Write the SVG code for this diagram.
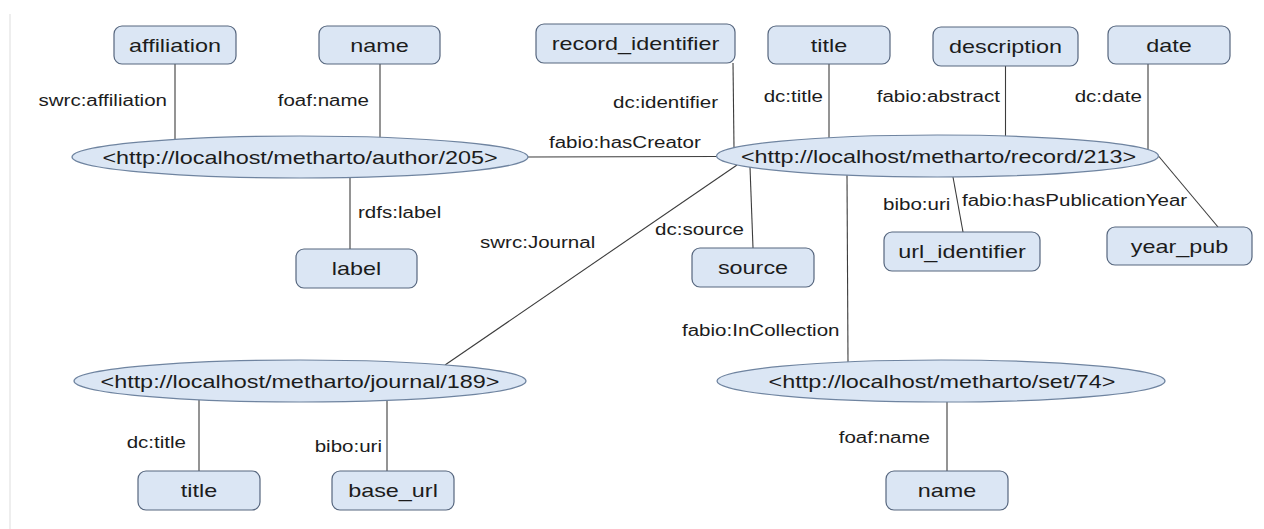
<svg xmlns="http://www.w3.org/2000/svg" width="1264" height="529" viewBox="0 0 1264 529">
<style>
.bg{fill:#ffffff}
.frame{stroke:#e9e9e9;stroke-width:1.5}
.box{fill:#dbe6f4;stroke:#56667e;stroke-width:1.2}
.ell{fill:#dbe6f4;stroke:#6f84a0;stroke-width:1.2}
.t{font-family:"Liberation Sans",Arial,sans-serif;font-size:18px;fill:#1c1c1c;text-anchor:middle}
.l{font-family:"Liberation Sans",Arial,sans-serif;font-size:15.8px;fill:#1c1c1c}
.e{text-anchor:end}
.s{text-anchor:start}
.c line{stroke:#3c3c3c;stroke-width:1.1}
</style>
<rect class="bg" x="0" y="0" width="1264" height="529"/>
<line class="frame" x1="10" y1="14" x2="10" y2="529"/>

<g id="connectors" class="c">
  <g><line x1="175" y1="64" x2="175" y2="139.5"/><text class="l e" transform="matrix(1.3 0 0 1 167 106)">swrc:affiliation</text></g>
  <g><line x1="380" y1="64" x2="380" y2="137.5"/><text class="l e" transform="matrix(1.3 0 0 1 369 106)">foaf:name</text></g>
  <g><line x1="350" y1="177.5" x2="350" y2="249"/><text class="l s" transform="matrix(1.3 0 0 1 358 218)">rdfs:label</text></g>
  <g><line x1="528" y1="157" x2="716.5" y2="156.5"/><text class="l s" transform="matrix(1.3 0 0 1 549 148)">fabio:hasCreator</text></g>
  <g><line x1="733" y1="63" x2="734" y2="148"/><text class="l e" transform="matrix(1.3 0 0 1 718 108)">dc:identifier</text></g>
  <g><line x1="829" y1="64" x2="829" y2="138"/><text class="l e" transform="matrix(1.3 0 0 1 823 102)">dc:title</text></g>
  <g><line x1="1005.5" y1="66" x2="1005.5" y2="136"/><text class="l e" transform="matrix(1.3 0 0 1 1000 102)">fabio:abstract</text></g>
  <g><line x1="1148" y1="64" x2="1148" y2="149.5"/><text class="l e" transform="matrix(1.3 0 0 1 1142 102)">dc:date</text></g>
  <g><line x1="737" y1="165" x2="445" y2="365"/><text class="l s" transform="matrix(1.3 0 0 1 480 248)">swrc:Journal</text></g>
  <g><line x1="750" y1="167" x2="753" y2="248"/><text class="l s" transform="matrix(1.3 0 0 1 655 235)">dc:source</text></g>
  <g><line x1="847" y1="175" x2="848" y2="362"/><text class="l s" transform="matrix(1.3 0 0 1 682 336)">fabio:InCollection</text></g>
  <g><line x1="953" y1="177" x2="963" y2="232"/><text class="l s" transform="matrix(1.3 0 0 1 883 210)">bibo:uri</text></g>
  <g><line x1="1158.5" y1="156" x2="1218" y2="227"/><text class="l s" transform="matrix(1.3 0 0 1 962 206)">fabio:hasPublicationYear</text></g>
  <g><line x1="199" y1="400" x2="199" y2="471"/><text class="l e" transform="matrix(1.3 0 0 1 186 448)">dc:title</text></g>
  <g><line x1="387" y1="400" x2="387" y2="471"/><text class="l e" transform="matrix(1.3 0 0 1 382 452)">bibo:uri</text></g>
  <g><line x1="947" y1="402" x2="947" y2="471"/><text class="l e" transform="matrix(1.3 0 0 1 930 443)">foaf:name</text></g>
</g>

<g id="author"><ellipse class="ell" cx="300" cy="157" rx="228" ry="21"/><text class="t" transform="matrix(1.3 0 0 1 300 163.5)">&lt;http://localhost/metharto/author/205&gt;</text></g>
<g id="record"><ellipse class="ell" cx="937.5" cy="156" rx="221" ry="21"/><text class="t" transform="matrix(1.3 0 0 1 938.5 162.5)">&lt;http://localhost/metharto/record/213&gt;</text></g>
<g id="journal"><ellipse class="ell" cx="300" cy="381" rx="226" ry="21"/><text class="t" transform="matrix(1.3 0 0 1 300 387.5)">&lt;http://localhost/metharto/journal/189&gt;</text></g>
<g id="set"><ellipse class="ell" cx="941" cy="381" rx="224" ry="21"/><text class="t" transform="matrix(1.3 0 0 1 942 387.5)">&lt;http://localhost/metharto/set/74&gt;</text></g>

<g id="affiliation"><rect class="box" x="114" y="26" width="122" height="38" rx="8"/><text class="t" transform="matrix(1.3 0 0 1 175 51.5)">affiliation</text></g>
<g id="name-author"><rect class="box" x="319" y="26" width="121" height="38" rx="8"/><text class="t" transform="matrix(1.3 0 0 1 379.5 51.5)">name</text></g>
<g id="record_identifier"><rect class="box" x="536" y="24" width="199" height="39" rx="8"/><text class="t" transform="matrix(1.3 0 0 1 635.5 50)">record_identifier</text></g>
<g id="title-record"><rect class="box" x="768" y="26" width="122" height="38" rx="8"/><text class="t" transform="matrix(1.3 0 0 1 829 51.5)">title</text></g>
<g id="description"><rect class="box" x="933" y="27" width="145" height="39" rx="8"/><text class="t" transform="matrix(1.3 0 0 1 1005.5 53)">description</text></g>
<g id="date"><rect class="box" x="1108" y="26" width="122" height="38" rx="8"/><text class="t" transform="matrix(1.3 0 0 1 1169 51.5)">date</text></g>
<g id="label"><rect class="box" x="296" y="249" width="121" height="39" rx="8"/><text class="t" transform="matrix(1.3 0 0 1 356.5 275)">label</text></g>
<g id="source"><rect class="box" x="692" y="248" width="122" height="39" rx="8"/><text class="t" transform="matrix(1.3 0 0 1 753 274)">source</text></g>
<g id="url_identifier"><rect class="box" x="884" y="232" width="156" height="39" rx="8"/><text class="t" transform="matrix(1.3 0 0 1 962 258)">url_identifier</text></g>
<g id="year_pub"><rect class="box" x="1107" y="227" width="145" height="38" rx="8"/><text class="t" transform="matrix(1.3 0 0 1 1179.5 252.5)">year_pub</text></g>
<g id="title-journal"><rect class="box" x="138" y="471" width="122" height="39" rx="8"/><text class="t" transform="matrix(1.3 0 0 1 199 497)">title</text></g>
<g id="base_url"><rect class="box" x="332" y="471" width="122" height="39" rx="8"/><text class="t" transform="matrix(1.3 0 0 1 393 497)">base_url</text></g>
<g id="name-set"><rect class="box" x="886" y="471" width="122" height="39" rx="8"/><text class="t" transform="matrix(1.3 0 0 1 947 497)">name</text></g>
</svg>
